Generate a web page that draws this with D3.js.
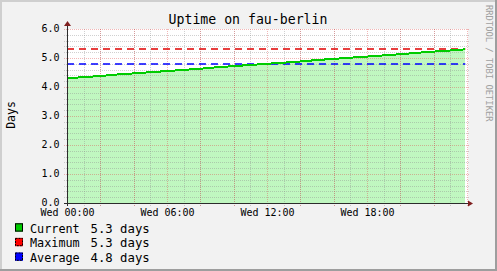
<!DOCTYPE html>
<html><head><meta charset="utf-8">
<script src="https://cdn.jsdelivr.net/npm/d3@7"></script>
<style>
body{margin:0;background:#f2f2f2}
svg{display:block}
text{font-family:"DejaVu Sans Mono",monospace}
</style>
</head><body>
<svg id="c" width="497" height="271"></svg>
<script>
const title = "Uptime on fau-berlin";
const yLabel = "Days";
const watermark = "RRDTOOL / TOBI OETIKER";
const hours  = [0,1,2,3,4,5,6,7,8,9,10,11,12,13,14,15,16,17,18,19,20,21,22,23,23.9];
const uptime = [4.30,4.34,4.38,4.43,4.47,4.51,4.55,4.59,4.63,4.68,4.72,4.76,4.80,4.84,4.88,4.93,4.97,5.01,5.05,5.09,5.13,5.18,5.22,5.26,5.30];
const maxValue = 5.30;
const avgValue = 4.78;
const xTickHours  = [0,6,12,18];
const xTickLabels = ["Wed 00:00","Wed 06:00","Wed 12:00","Wed 18:00"];
const yTicks = [0,1,2,3,4,5,6];
const yTickLabels = ["0.0","1.0","2.0","3.0","4.0","5.0","6.0"];
const legendNames  = ["Current","Maximum","Average"];
const legendValues = ["5.3 days","5.3 days","4.8 days"];
const legendColors = ["#00cc00","#ff0000","#0000ff"];
const legendDashed = [false,true,true];

const W = 497, H = 271;
const svg = d3.select("#c");
const x = d3.scaleLinear().domain([0,24]).range([67,467]);
const y = d3.scaleLinear().domain([0,6]).range([203,29]);

// background + 3D frame
svg.append("rect").attr("width",W).attr("height",H).attr("fill","#f2f2f2");
svg.append("rect").attr("x",0).attr("y",0).attr("width",W).attr("height",2).attr("fill","#cfcfcf");
svg.append("rect").attr("x",0).attr("y",0).attr("width",2).attr("height",H).attr("fill","#cfcfcf");
svg.append("rect").attr("x",0).attr("y",H-2).attr("width",W).attr("height",2).attr("fill","#9e9e9e");
svg.append("rect").attr("x",W-2).attr("y",0).attr("width",2).attr("height",H).attr("fill","#9e9e9e");

// canvas
svg.append("rect").attr("x",x(0)).attr("y",y(6)).attr("width",x(24)-x(0)+1).attr("height",y(0)-y(6)).attr("fill","#ffffff");

// area
const pts = hours.map((h,i)=>[h,uptime[i]]);
svg.append("path").datum(pts)
  .attr("d", d3.area().x(d=>x(d[0])).y0(y(0)).y1(d=>y(d[1])))
  .attr("fill","#c0f7c0").attr("shape-rendering","crispEdges");

// grid
const g = svg.append("g").attr("shape-rendering","crispEdges");
const minorX = x.ticks(24).filter(v=>v%3!==0);
const majorX = x.ticks(8);
const minorY = y.ticks(30).filter(v=>Math.abs(v-Math.round(v))>1e-6);
const majorY = y.ticks(6);
const minorCol = "rgba(143,143,143,0.42)", majorCol = "rgba(222,81,81,0.42)";
minorX.forEach(v=>{
  const px = Math.round(x(v))+0.5;
  g.append("line").attr("x1",px).attr("x2",px).attr("y1",y(6)).attr("y2",y(0)+3)
   .attr("stroke",minorCol).attr("stroke-dasharray","1,1");
});
minorY.forEach(v=>{
  const py = Math.round(y(v))+0.5;
  g.append("line").attr("x1",x(0)-3).attr("x2",x(24)+2).attr("y1",py).attr("y2",py)
   .attr("stroke",minorCol).attr("stroke-dasharray","1,1");
});
majorX.forEach(v=>{
  const px = Math.round(x(v))+0.5;
  g.append("line").attr("x1",px).attr("x2",px).attr("y1",y(6)).attr("y2",y(0)+3)
   .attr("stroke",majorCol).attr("stroke-dasharray","1,1");
});
majorY.forEach(v=>{
  const py = Math.round(y(v))+0.5;
  g.append("line").attr("x1",x(0)-3).attr("x2",x(24)+2).attr("y1",py).attr("y2",py)
   .attr("stroke",majorCol).attr("stroke-dasharray","1,1");
});

// max / average dashed
[[maxValue,"#e00000"],[avgValue,"#0000ff"]].forEach(([v,c])=>{
  const py = Math.round(y(v));
  svg.append("line").attr("x1",x(0)).attr("x2",x(hours[hours.length-1])).attr("y1",py).attr("y2",py)
    .attr("stroke",c).attr("stroke-width",1.5).attr("stroke-dasharray","7,5");
});

// current line
svg.append("path").datum(pts)
  .attr("d", d3.line().x(d=>x(d[0])).y(d=>y(d[1])))
  .attr("fill","none").attr("stroke","#00cc00").attr("stroke-width",2).attr("shape-rendering","crispEdges");

// axes
svg.append("line").attr("x1",x(0)-3).attr("x2",x(24)+2).attr("y1",y(0)+0.5).attr("y2",y(0)+0.5)
  .attr("stroke","#2c2c2c").attr("shape-rendering","crispEdges");
svg.append("line").attr("x1",x(0)+0.5).attr("x2",x(0)+0.5).attr("y1",y(0)+3).attr("y2",y(6)-3)
  .attr("stroke","#2c2c2c").attr("shape-rendering","crispEdges");
// arrows
svg.append("path").attr("d",`M${x(0)-3},${y(6)-3}L${x(0)+0.5},${y(6)-8}L${x(0)+4},${y(6)-3}Z`).attr("fill","#7f1f1f");
svg.append("path").attr("d",`M${x(24)+1},${y(0)-2.5}L${x(24)+6},${y(0)+0.5}L${x(24)+1},${y(0)+3.5}Z`).attr("fill","#7f1f1f");

// tick labels
yTicks.forEach((v,i)=>{
  svg.append("text").attr("x",59.5).attr("y",y(v)+3).attr("text-anchor","end")
    .attr("font-size",10).attr("fill","#000").text(yTickLabels[i]);
});
xTickHours.forEach((v,i)=>{
  svg.append("text").attr("x",x(v)+0.5).attr("y",215.5).attr("text-anchor","middle")
    .attr("font-size",10).attr("fill","#000").text(xTickLabels[i]);
});

// title
svg.append("text").attr("x",248).attr("y",23.5).attr("text-anchor","middle")
  .attr("font-size",13.2).attr("fill","#000").text(title);
// y label
svg.append("text").attr("transform","translate(15,115) rotate(-90)").attr("text-anchor","middle")
  .attr("font-size",11.5).attr("fill","#000").text(yLabel);
// watermark
svg.append("text").attr("transform","translate(485.5,5) rotate(90)").attr("text-anchor","start")
  .attr("font-size",8.8).attr("fill","#a0a0a0").text(watermark);

// legend
legendNames.forEach((n,i)=>{
  const by = 232.6 + i*14.6;
  svg.append("rect").attr("x",15).attr("y",by-9.3).attr("width",8).attr("height",8.3).attr("fill",legendColors[i]);
  svg.append("rect").attr("x",15.5).attr("y",by-8.8).attr("width",7).attr("height",7.3)
    .attr("fill","none").attr("stroke","#000").attr("stroke-width",1)
    .attr("stroke-dasharray",legendDashed[i]?"2,1":null);
  svg.append("text").attr("x",30).attr("y",by).attr("font-size",11.8).attr("fill","#000").text(n);
  svg.append("text").attr("x",90.5).attr("y",by).attr("font-size",12.3).attr("fill","#000").text(legendValues[i]);
});
</script>
</body></html>
